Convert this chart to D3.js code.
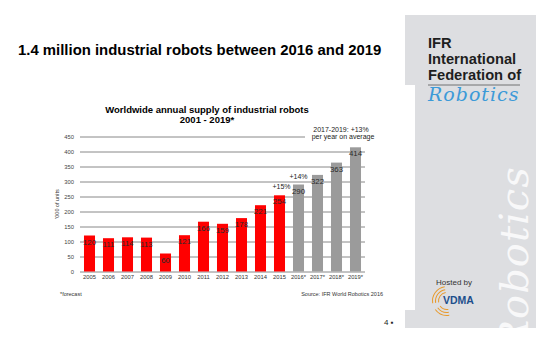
<!DOCTYPE html>
<html><head><meta charset="utf-8">
<script src="https://cdn.jsdelivr.net/npm/d3@7"></script>
<style>
html,body{margin:0;padding:0;background:#fff;}
svg{display:block;font-family:"Liberation Sans",Arial,sans-serif;}
</style></head>
<body>
<svg id="c" width="536" height="357"></svg>
<script>
// ---- data ----
const years = ["2005","2006","2007","2008","2009","2010","2011","2012","2013","2014","2015","2016*","2017*","2018*","2019*"];
const values = [120,111,114,113,60,121,166,159,178,221,254,290,322,363,414];
const forecast = [0,0,0,0,0,0,0,0,0,0,0,1,1,1,1];
const yTicks = [0,50,100,150,200,250,300,350,400,450];
const growthYears = ["2015","2016*"];
const growthTexts = ["+15%","+14%"];
const avgNote = ["2017-2019: +13%","per year on average"];

const svg = d3.select("#c");

// ---- right panel ----
const panel = svg.append("g");
const pcol = "#dddee1";
panel.append("rect").attr("x",405).attr("y",15).attr("width",131).attr("height",70).attr("fill",pcol);
panel.append("rect").attr("x",415).attr("y",85).attr("width",121).attr("height",226).attr("fill",pcol);
panel.append("rect").attr("x",405).attr("y",310).attr("width",131).attr("height",18).attr("fill",pcol);
panel.append("text").attr("transform","translate(528,350) rotate(-90)")
  .attr("font-family","'DejaVu Serif',serif").attr("font-style","italic")
  .attr("font-size",40).attr("fill","#fff").attr("opacity",0.8).attr("letter-spacing",1)
  .text("Robotics");
["IFR","International","Federation of"].forEach((t,i)=>{
  panel.append("text").attr("x",428).attr("y",48+i*16).attr("font-size",14.7)
    .attr("font-weight","bold").attr("fill","#1e1e1e").text(t);
});
panel.append("line").attr("x1",428).attr("x2",520).attr("y1",85).attr("y2",85).attr("stroke","#555").attr("stroke-width",0.8);
panel.append("text").attr("x",428).attr("y",101).attr("font-size",19)
  .attr("font-family","'DejaVu Serif',serif").attr("font-style","italic")
  .attr("fill","#3c9ad8").attr("letter-spacing",1).text("Robotics");
panel.append("text").attr("x",436).attr("y",285).attr("font-size",8).attr("fill","#333").text("Hosted by");
const arc = d3.arc();
[9,12,15].forEach(r=>{
  panel.append("path").attr("transform","translate(447,301)")
    .attr("d",arc({innerRadius:r-1,outerRadius:r,startAngle:-Math.PI*0.55,endAngle:-Math.PI*0.05}))
    .attr("fill","#e89a2c");
  panel.append("path").attr("transform","translate(447,301)")
    .attr("d",arc({innerRadius:r-1,outerRadius:r,startAngle:Math.PI*0.95,endAngle:Math.PI*1.3}))
    .attr("fill","#e89a2c");
});
panel.append("text").attr("x",443).attr("y",304).attr("font-size",10.5).attr("font-weight","bold")
  .attr("fill","#1d4f8c").text("VDMA");
svg.append("text").attr("x",384).attr("y",325).attr("font-size",8).attr("fill","#222").text("4 \u25AA");

// ---- main title ----
svg.append("text").attr("x",18).attr("y",55).attr("font-size",14.9).attr("font-weight","bold")
  .attr("fill","#000").text("1.4 million industrial robots between 2016 and 2019");

// ---- chart ----
const x = d3.scaleBand().domain(years).range([80,365]).paddingInner(0.42).paddingOuter(0.21);
const y = d3.scaleLinear().domain([0,450]).range([271.5,136.5]);

svg.append("text").attr("x",207).attr("y",113).attr("text-anchor","middle").attr("font-size",9.5)
  .attr("font-weight","bold").text("Worldwide annual supply of industrial robots");
svg.append("text").attr("x",207).attr("y",123).attr("text-anchor","middle").attr("font-size",9.5)
  .attr("font-weight","bold").text("2001 - 2019*");

const yAxis = d3.axisLeft(y).tickValues(yTicks).tickSize(-285).tickPadding(6);
const gy = svg.append("g").attr("transform","translate(80,0)").call(yAxis);
gy.select(".domain").remove();
gy.selectAll(".tick line").attr("stroke","#7a7a7a").attr("stroke-width",0.9);
gy.selectAll(".tick text").attr("font-size",5.8).attr("fill","#444").attr("font-family","'Liberation Sans',Arial");

svg.append("text").attr("transform","translate(59,204) rotate(-90)").attr("text-anchor","middle")
  .attr("font-size",5.5).attr("fill","#333").text("'000 of units");

// annotation white box
const ann = svg.append("g");
ann.append("rect").attr("x",305).attr("y",124).attr("width",70).attr("height",17).attr("fill","#fff");
avgNote.forEach((t,i)=>{
  ann.append("text").attr("x",341+i*2).attr("y",y(474)+2.5+i*7.5).attr("text-anchor","middle")
    .attr("font-size",7).attr("fill","#222").text(t);
});

svg.append("g").selectAll("rect").data(years).join("rect")
  .attr("x",d=>x(d)).attr("width",x.bandwidth())
  .attr("y",(d,i)=>y(values[i])).attr("height",(d,i)=>y(0)-y(values[i]))
  .attr("fill",(d,i)=>forecast[i]?"#9b9b9b":"#ff0000");

svg.append("g").selectAll("text").data(years).join("text")
  .attr("x",d=>x(d)+x.bandwidth()/2).attr("y",(d,i)=>y(values[i])+9)
  .attr("text-anchor","middle").attr("font-size",7.8).attr("fill","#2a2a2a")
  .text((d,i)=>values[i]);

growthYears.forEach((g,i)=>{
  const v = values[years.indexOf(g)];
  svg.append("text").attr("x",x(g)+x.bandwidth()/2+(i===0?2:0)).attr("y",y(v)-6)
    .attr("text-anchor","middle").attr("font-size",7).attr("fill","#222").text(growthTexts[i]);
});

const xAxis = d3.axisBottom(x).tickSize(0).tickPadding(3);
const gx = svg.append("g").attr("transform","translate(0,271.5)").call(xAxis);
gx.select(".domain").remove();
gx.selectAll(".tick text").attr("font-size",5.8).attr("fill","#333").attr("font-family","'Liberation Sans',Arial");

svg.append("text").attr("x",60).attr("y",296).attr("font-size",5.5).attr("fill","#333").text("*forecast");
svg.append("text").attr("x",383).attr("y",296).attr("text-anchor","end").attr("font-size",5.5).attr("fill","#333").text("Source: IFR World Robotics 2016");
</script>
</body></html>
